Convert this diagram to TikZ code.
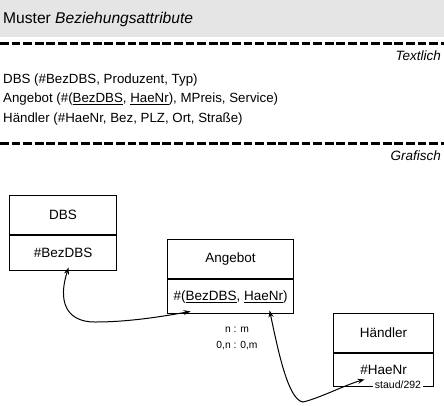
\documentclass[tikz,border=0pt]{standalone}
\usepackage{fontspec}
\setmainfont{Liberation Sans}
\usetikzlibrary{arrows.meta}
\begin{document}
\begin{tikzpicture}[x=1pt,y=-1pt,
  txt/.style={inner sep=0pt,anchor=base west,font=\fontsize{13.3}{15}\selectfont},
  rlabel/.style={inner sep=0pt,anchor=base east,font=\fontsize{13.5}{15}\selectfont\itshape},
  sep/.style={line width=2.6pt,dash pattern=on 8.8pt off 2.8pt},
  box/.style={draw,line width=1.2pt,inner sep=0pt,font=\fontsize{13.5}{15}\selectfont},
  small/.style={inner sep=0pt,anchor=base,font=\fontsize{10.3}{12}\selectfont},
  conn/.style={line width=1pt,{Stealth[length=7pt,width=5pt]}-{Stealth[length=7pt,width=5pt]}}
]
\useasboundingbox (0,0) rectangle (444,405);
% header
\fill[black!10] (0,0) rectangle (444,37);
\node[inner sep=0pt,anchor=base west,font=\fontsize{15.6}{18}\selectfont] (title) at (3,23) {Muster \textit{Beziehungsattribute}};
\draw[sep] (0,43.5) -- (444,43.5);
\node[rlabel] (textlich) at (441,60) {Textlich};
\node[txt] (l1) at (3,83) {DBS (\#BezDBS, Produzent, Typ)};
\node[txt] (l2) at (3,102.5) {Angebot (\#(\underline{BezDBS}, \underline{HaeNr}), MPreis, Service)};
\node[txt] (l3) at (3,122) {Händler (\#HaeNr, Bez, PLZ, Ort, Straße)};
\draw[sep] (0,143.5) -- (444,143.5);
\node[rlabel] (grafisch) at (441,160) {Grafisch};
% boxes
\node[box,anchor=north west,minimum width=107pt,minimum height=39pt] (dbs) at (9,195) {DBS};
\node[box,anchor=north,minimum width=107pt,minimum height=35pt] (dbsk) at (dbs.south) {\#BezDBS};
\node[box,anchor=north west,minimum width=126pt,minimum height=39pt] (ang) at (167,239) {Angebot};
\node[box,anchor=north,minimum width=126pt,minimum height=34pt] (angk) at (ang.south) {\#(\underline{BezDBS}, \underline{HaeNr})};
\node[box,anchor=north west,minimum width=100pt,minimum height=39pt] (hae) at (333,313) {Händler};
\node[box,anchor=north,minimum width=100pt,minimum height=33pt] (haek) at (hae.south) {\#HaeNr};
\node[fill=white,inner xsep=1.5pt,inner ysep=0.5pt,font=\fontsize{10.5}{12}\selectfont] (staud) at (398,385) {staud/292};
% cardinalities
\node[small] (c1) at (237,332) {n : m};
\node[small] (c2) at (237,348) {0,n : 0,m};
% connectors
\coordinate (k1) at (95,322);
\coordinate (k2) at (303,402);
\draw[conn] ([xshift=5.5pt,yshift=4pt]dbsk.south) .. controls (58,300) and (65,322) .. (k1)
  .. controls (130,322) and (165,316) .. ([xshift=-40pt,yshift=3pt]angk.south);
\draw[conn] ([xshift=39pt,yshift=4pt]angk.south) .. controls (278,350) and (288,400) .. (k2)
  .. controls (320,398) and (345,385) .. ([xshift=-19pt,yshift=8pt]haek.south);
\end{tikzpicture}
\end{document}
